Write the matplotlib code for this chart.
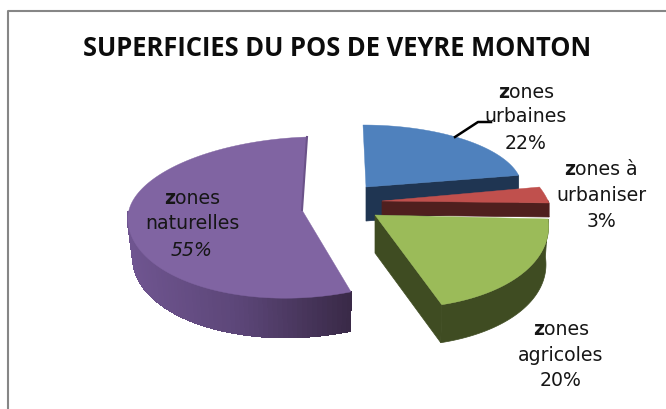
import matplotlib
matplotlib.use('Agg')
import matplotlib.pyplot as plt
import matplotlib.colors as mcolors
import numpy as np

W, H = 666, 410

title = 'SUPERFICIES DU POS DE VEYRE MONTON'
values = [22, 3, 20, 55]
names = [['zones', 'urbaines'], ['zones à', 'urbaniser'], ['zones', 'agricoles'], ['zones', 'naturelles']]
top_colors = ['#4f81bd', '#c0504d', '#9bbb59', '#8064a2']
side_colors = ['#1f3552', '#4f1f1e', '#3f4c22', '#3a2a48']

# apex x, apex y, rx, ry up, ry down, shear, tilt, depth, scale of the lower rim
geometry = [
    (366, 188, 156, 62, 62, -3, 0, 34, 1.0),
    (382, 202, 167, 85, 85, -35, 2, 14, 1.0),
    (375, 216, 173, 93, 93, -14, 4, 38, 0.985),
    (302, 211, 174, 73, 88, 5, -6, 39, 0.97),
]
# label centre x and the y of its three lines
label_pos = [
    (526, [92, 117, 144]),
    (601, [170, 196, 222]),
    (561, [330, 356, 381]),
    (192, [199, 224, 251]),
]

fig = plt.figure(figsize=(W / 100, H / 100), dpi=100)
ax = fig.add_axes([0, 0, 1, 1])
ax.set_xlim(0, W)
ax.set_ylim(H, 0)
ax.axis('off')


def rim(a, g):
    # a in degrees, clockwise from twelve o'clock
    x0, y0, rx, ry_up, ry_down, shear, tilt, _, _ = g
    a = np.radians(a)
    c, s = np.cos(a), np.sin(a)
    x = x0 + rx * s + shear * c
    y = y0 - np.where(c > 0, ry_up, ry_down) * c + tilt * s
    return x, y


def lower(x, y, g):
    return g[0] + (x - g[0]) * g[8], y + g[7]


def draw_slice(start, end, g, top, side, gradient=False):
    a = np.linspace(start, end, 120)
    x, y = rim(a, g)
    xb, yb = lower(x, y, g)
    # cut face on the end of the slice that looks at us
    if end - start < 100:
        ax.fill([g[0], x[-1], xb[-1], g[0]], [g[1], y[-1], yb[-1], g[1] + g[7]],
                color=side, lw=0.5, zorder=1)
    # outer wall, only the part turned towards the viewer
    keep = (a > 88) & (a < 275)
    if keep.sum() > 1:
        xk, yk, xbk, ybk = x[keep], y[keep], xb[keep], yb[keep]
        if gradient:
            cmap = mcolors.LinearSegmentedColormap.from_list('wall', ['#6f5590', '#5c4678', side])
            for i in range(len(xk) - 1):
                col = cmap((xk[i] - xk.min()) / (xk.max() - xk.min()))
                ax.fill([xk[i], xk[i + 1], xbk[i + 1], xbk[i]], [yk[i], yk[i + 1], ybk[i + 1], ybk[i]],
                        color=col, lw=1, antialiased=False, zorder=1)
        else:
            ax.fill(np.r_[xk, xbk[::-1]], np.r_[yk, ybk[::-1]], color=side, lw=0.5, zorder=1)
    ax.fill(np.r_[g[0], x], np.r_[g[1], y], color=top, lw=0.3, zorder=1)


angles = np.r_[0, np.cumsum(values)] * 360 / sum(values)
for i in range(len(values)):
    draw_slice(angles[i], angles[i + 1], geometry[i], top_colors[i], side_colors[i], gradient=i == 3)

# thin inner face of the big slice
xe, ye = rim(360, geometry[3])
ax.plot([geometry[3][0], xe], [geometry[3][1], ye], color='#6b5289', lw=1.5, zorder=2)

# chart frame
ax.plot([8, 8, W], [H, 12, 12], color='#868686', lw=1.5, zorder=0)

ax.text(337.5, 48, title, fontsize=18.4, fontweight='bold', family='Open Sans',
        ha='center', va='center', color='#0c0c0c')

# leader line of the first label
ax.plot([455, 478, 491], [138, 123, 123], color='black', lw=1.8, zorder=3)

fig.canvas.draw()
rend = fig.canvas.get_renderer()
FS = 13.6
for i, (cx, ys) in enumerate(label_pos):
    # first line has a bold z, the rest is regular
    first = names[i][0][1:]
    bold = ax.text(0, ys[0], 'z', fontsize=FS, fontweight='bold', va='center', ha='left', color='#161616')
    rest = ax.text(0, ys[0], first, fontsize=FS, va='center', ha='left', color='#161616')
    w1 = bold.get_window_extent(rend).width + 0.5
    w2 = rest.get_window_extent(rend).width
    bold.set_x(cx - (w1 + w2) / 2)
    rest.set_x(cx - (w1 + w2) / 2 + w1)
    ax.text(cx, ys[1], names[i][1], fontsize=FS, va='center', ha='center', color='#161616')
    ax.text(cx, ys[2], f'{values[i]}%', fontsize=FS, va='center', ha='center', color='#161616',
            style='italic' if i == 3 else 'normal')

fig.savefig('out.png', dpi=100)
